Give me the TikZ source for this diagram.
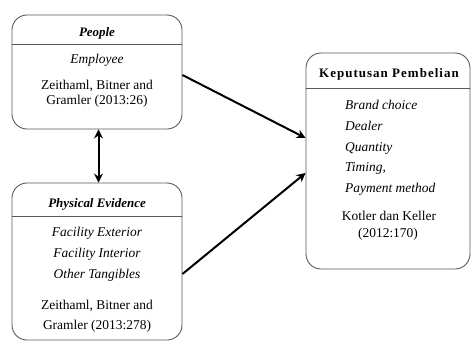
\documentclass[tikz,border=0pt]{standalone}
\usepackage{fontspec}
\setmainfont{Liberation Serif}
\usetikzlibrary{arrows.meta,calc}
\begin{document}
\begin{tikzpicture}[x=1bp,y=-1bp,
  box/.style={draw=black!65,line width=0.9bp,rounded corners=15bp,inner sep=0pt},
  divider/.style={draw=black!65,line width=0.9bp},
  txt/.style={anchor=base,inner sep=0pt,font=\fontsize{13.5}{16}\selectfont},
  itxt/.style={txt,font=\fontsize{13.5}{16}\selectfont\itshape},
  head/.style={txt,font=\fontsize{13}{16}\selectfont\bfseries\itshape},
  tip/.style={Stealth[length=9bp,width=9bp,inset=3bp]},
  conn/.style={line width=2bp,-{Stealth[length=9bp,width=9bp,inset=3bp]}},
  dconn/.style={line width=2bp,{Stealth[length=9bp,width=9bp,inset=3bp]}-{Stealth[length=9bp,width=9bp,inset=3bp]}}]
\useasboundingbox (0,0) rectangle (471,341);
% boxes
\node[box,minimum width=170bp,minimum height=114bp] (people) at (97,72) {};
\node[box,minimum width=170bp,minimum height=157bp] (pe) at (97,261.5) {};
\node[box,minimum width=164bp,minimum height=216bp] (kp) at (388,161) {};
% dividers
\draw[divider] (people.west |- 0,44) -- (people.east |- 0,44);
\draw[divider] (pe.west |- 0,216) -- (pe.east |- 0,216);
\draw[divider] (kp.west |- 0,88) -- (kp.east |- 0,88);
% People text
\node[head] (t1) at (97,36.5) {People};
\node[itxt] (t2) at (97,63.5) {Employee};
\node[txt] (t3) at (97,89.5) {Zeithaml, Bitner and};
\node[txt] (t4) at (97,104.5) {Gramler (2013:26)};
% Physical Evidence text
\node[head] (t5) at (97,207.5) {Physical Evidence};
\node[itxt] (t6) at (97,236.5) {Facility Exterior};
\node[itxt] (t7) at (97,257.5) {Facility Interior};
\node[itxt] (t8) at (97,278.5) {Other Tangibles};
\node[txt] (t9) at (97,309.5) {Zeithaml, Bitner and};
\node[txt] (t10) at (97,329.5) {Gramler (2013:278)};
% Keputusan text
\node[txt,font=\fontsize{13}{16}\selectfont\bfseries\addfontfeature{LetterSpace=8}] (k0) at (389,77.5) {Keputusan Pembelian};
\node[itxt,anchor=base west] (k1) at (345,109.5) {Brand choice};
\node[itxt,anchor=base west] (k2) at (345,130.5) {Dealer};
\node[itxt,anchor=base west] (k3) at (345,151.5) {Quantity};
\node[itxt,anchor=base west] (k4) at (345,171.5) {Timing,};
\node[itxt,anchor=base west] (k5) at (345,192.5) {Payment method};
\node[txt] (k6) at (389,220.5) {Kotler dan Keller};
\node[txt] (k7) at (388,237.5) {(2012:170)};
% connectors
\coordinate (a1) at (people.east |- 0,75);
\coordinate (a2) at (pe.east |- 0,274);
\coordinate (b1) at (kp.west |- 0,138);
\coordinate (b2) at (kp.west |- 0,173);
\draw[dconn] ($(people.south)+(1.5,0)$) -- ($(pe.north)+(1.5,0)$);
\draw[conn] (a1) -- (b1);
\draw[conn] (a2) -- (b2);
\end{tikzpicture}
\end{document}
